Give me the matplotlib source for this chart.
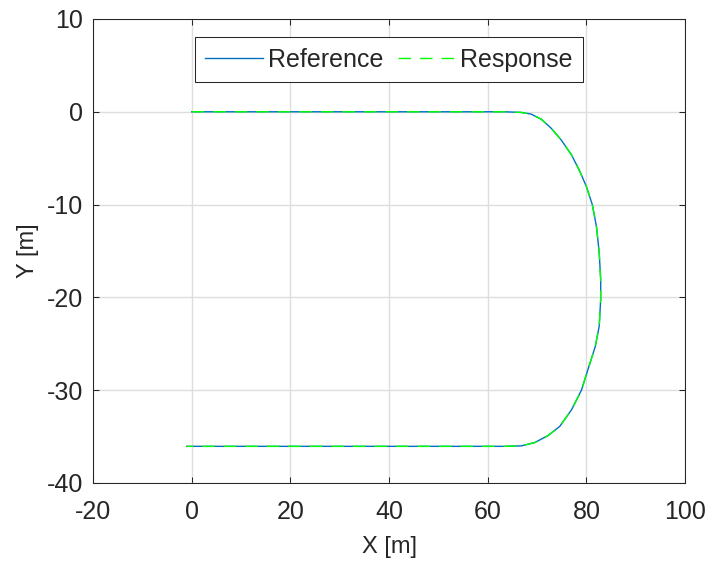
import matplotlib
matplotlib.use("Agg")
import matplotlib.pyplot as plt

# path: straight out along y=0, round the bend, back along y=-36
ref_x = [0, 20, 40, 60, 63.4, 66.8, 68.8, 70.9, 72.9, 74.9, 77.0, 78.7, 80.0, 81.2, 82.05, 82.6,
         82.9, 82.9, 82.6, 81.8, 80.3, 79.0, 77.0, 74.6, 72.2, 69.5, 66.8, 63.4, 60, 40, 20, -1.0]
ref_y = [0, 0, 0, 0, 0, -0.07, -0.25, -0.82, -1.79, -3.04, -4.66, -6.45, -8.06, -10.0, -12.4, -15.2,
         -18.1, -20.2, -23.1, -25.3, -27.8, -30.0, -32.1, -33.9, -34.9, -35.65, -36.0, -36.05, -36.05,
         -36.05, -36.05, -36.05]
# the response sits right on top of the reference everywhere
resp_x = list(ref_x)
resp_y = list(ref_y)

xticks = [-20, 0, 20, 40, 60, 80, 100]
yticks = [-40, -30, -20, -10, 0, 10]

INK = "#262626"
plt.rcParams["font.family"] = ["Liberation Sans", "DejaVu Sans"]
plt.rcParams["axes.unicode_minus"] = False
plt.rcParams["text.color"] = INK

fig = plt.figure(figsize=(7.08, 5.63), dpi=100)
ax = fig.add_axes([0.1314, 0.1421, 0.8362, 0.8242])

ax.plot(ref_x, ref_y, color="#0072BD", lw=1.0, label="Reference")
ax.plot(resp_x, resp_y, color="#00FF00", lw=1.0, ls=(0, (9, 6.5)), label="Response")

ax.set_xlim(-20, 100); ax.set_ylim(-40, 10)
ax.set_xticks(xticks); ax.set_yticks(yticks)
ax.tick_params(direction="in", labelsize=18, length=4.3, width=0.75, colors=INK,
               top=True, right=True)
ax.tick_params(axis="x", pad=12)
ax.tick_params(axis="y", pad=7)
ax.grid(color="#dedede", lw=1.0)
ax.set_axisbelow(True)
for sp in ax.spines.values():
    sp.set_linewidth(0.75); sp.set_color(INK)
ax.set_xlabel("X [m]", fontsize=17, color=INK, labelpad=9)
ax.set_ylabel("Y [m]", fontsize=17, color=INK, labelpad=6)

leg = ax.legend(loc="upper center", bbox_to_anchor=(0.5, 0.961), ncol=2, fontsize=18,
                frameon=True, fancybox=False, edgecolor=INK, framealpha=1,
                handlelength=2.3, handletextpad=0.2, columnspacing=0.6, borderpad=0.42,
                borderaxespad=0)
leg.get_frame().set_linewidth(0.75)

plt.savefig("out.png", dpi=100)
